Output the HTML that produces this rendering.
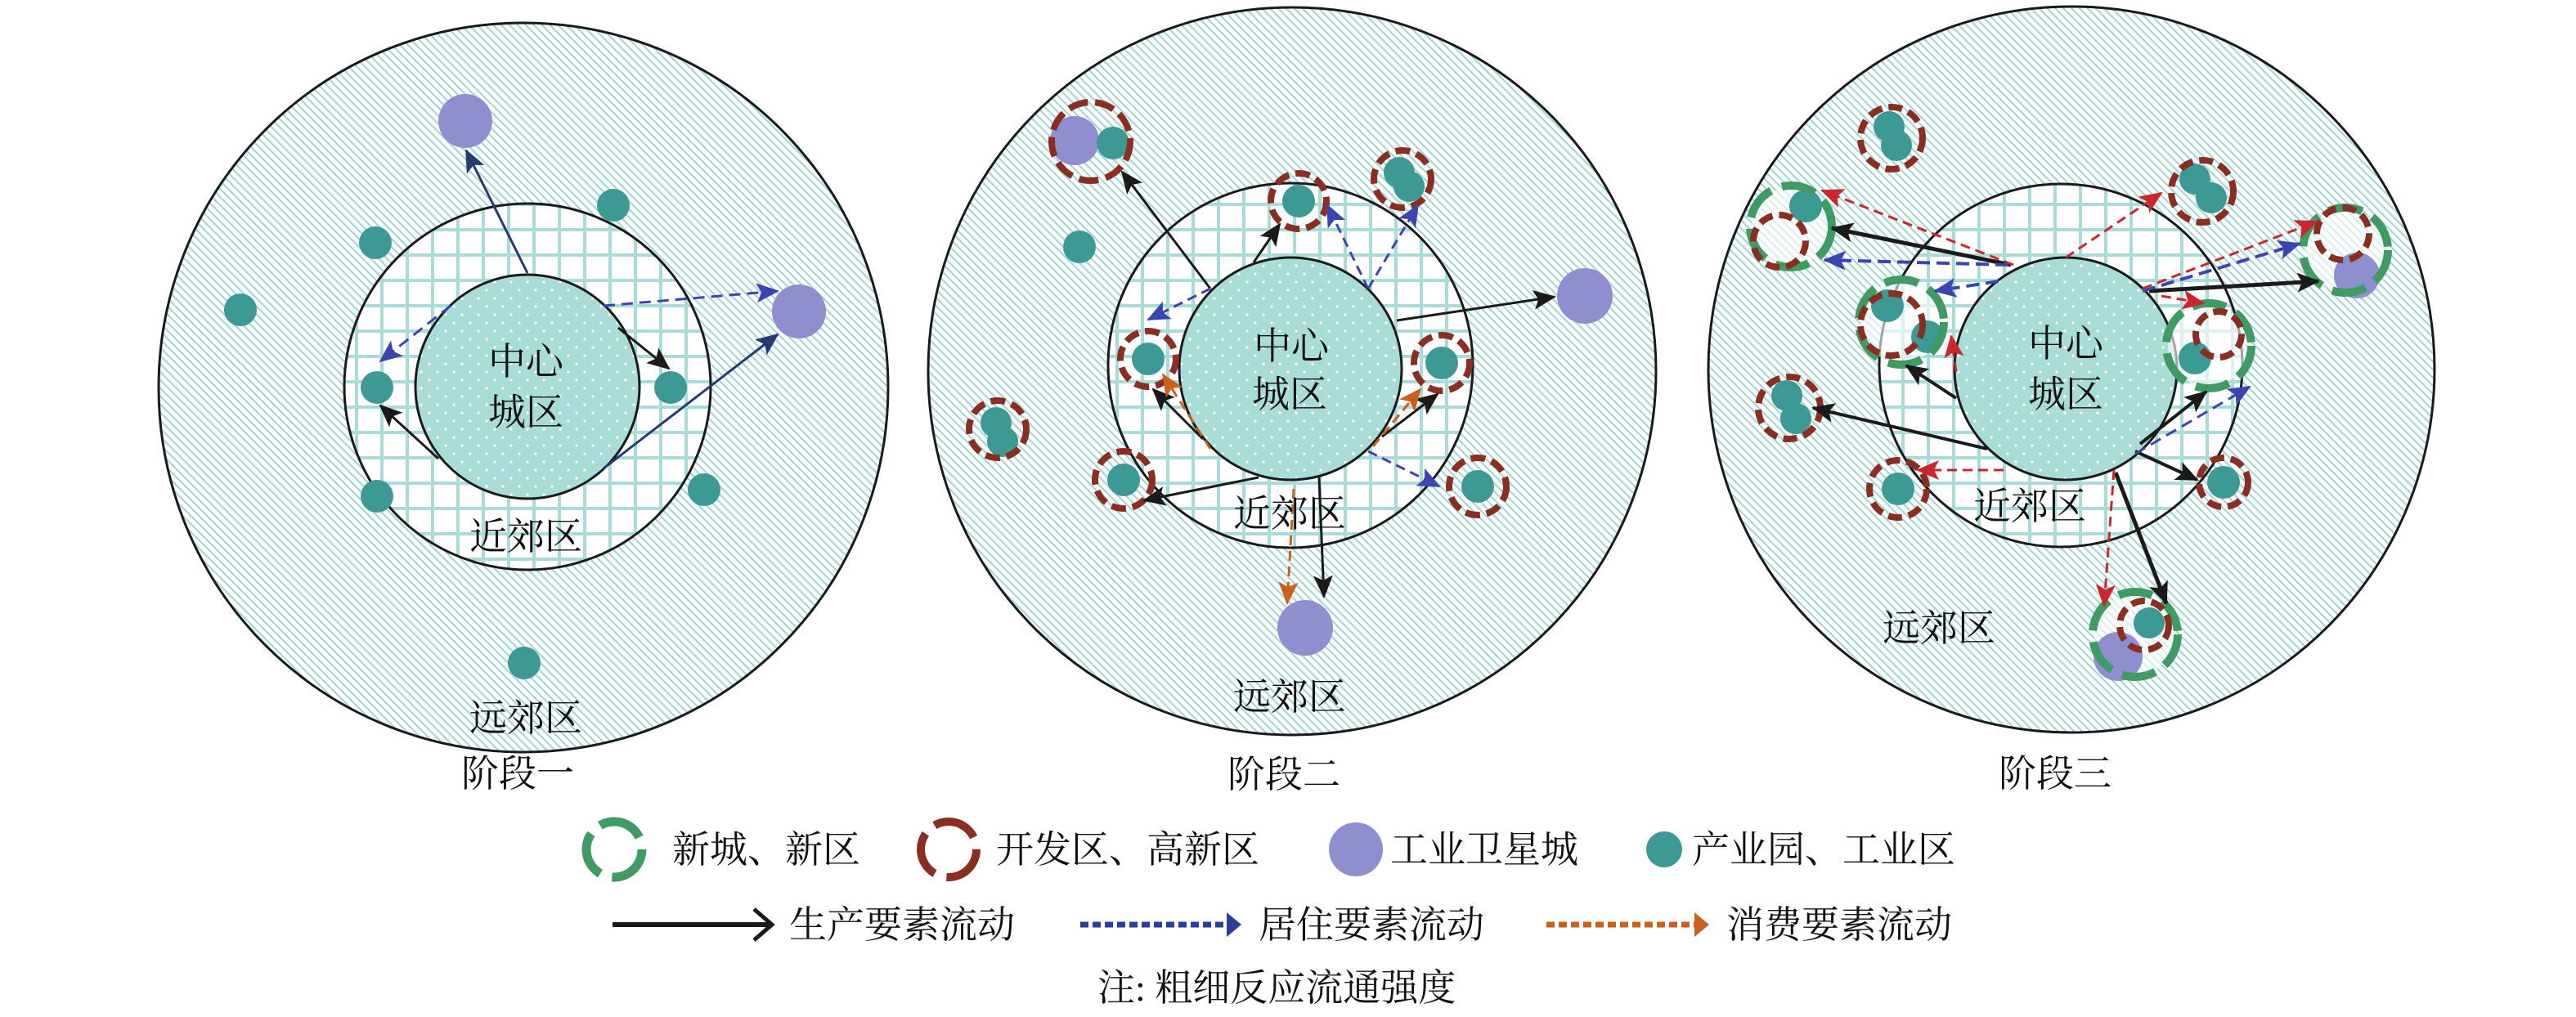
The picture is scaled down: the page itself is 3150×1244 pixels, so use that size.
<!DOCTYPE html>
<html><head><meta charset="utf-8"><style>
html,body{margin:0;padding:0;background:#fff;}
svg{display:block;}
text{font-family:"Liberation Serif","Noto Serif CJK SC","Noto Sans CJK SC",serif;fill:#111;}
</style></head><body>
<svg width="3150" height="1244" viewBox="0 0 3150 1244" xmlns="http://www.w3.org/2000/svg">
<defs>
<pattern id="hatch" width="7" height="7" patternUnits="userSpaceOnUse" patternTransform="rotate(45)">
<rect width="7" height="7" fill="#ffffff"/>
<rect width="7" height="2.2" fill="#a6d6d2"/>
</pattern>
<pattern id="grid" width="31" height="31" patternUnits="userSpaceOnUse">
<rect width="31" height="31" fill="#ffffff"/>
<rect width="31" height="4" fill="#a9dcd8"/>
<rect width="4" height="31" fill="#a9dcd8"/>
</pattern>
<pattern id="dots" width="20" height="20" patternUnits="userSpaceOnUse">
<rect width="20" height="20" fill="#a9dcd7"/>
<circle cx="5" cy="5" r="1.6" fill="#ffffff"/>
<circle cx="15" cy="15" r="1.6" fill="#ffffff"/>
</pattern>
<marker id="mk" markerUnits="userSpaceOnUse" markerWidth="28" markerHeight="24" refX="26" refY="12" orient="auto"><path d="M0,0 L28,12 L0,24 L6,12 Z" fill="#1a1a1a"/></marker>
<marker id="mn" markerUnits="userSpaceOnUse" markerWidth="28" markerHeight="24" refX="26" refY="12" orient="auto"><path d="M0,0 L28,12 L0,24 L6,12 Z" fill="#283a72"/></marker>
<marker id="mb" markerUnits="userSpaceOnUse" markerWidth="28" markerHeight="24" refX="26" refY="12" orient="auto"><path d="M0,0 L28,12 L0,24 L6,12 Z" fill="#3a45b0"/></marker>
<marker id="mo" markerUnits="userSpaceOnUse" markerWidth="28" markerHeight="24" refX="26" refY="12" orient="auto"><path d="M0,0 L28,12 L0,24 L6,12 Z" fill="#c8601e"/></marker>
<marker id="mr" markerUnits="userSpaceOnUse" markerWidth="28" markerHeight="24" refX="26" refY="12" orient="auto"><path d="M0,0 L28,12 L0,24 L6,12 Z" fill="#c8282d"/></marker>
</defs>

<!-- ===== Stage 1 ===== -->
<circle cx="640" cy="474" r="446" fill="url(#hatch)" stroke="#1a1a1a" stroke-width="3"/>
<circle cx="645" cy="473" r="224" fill="url(#grid)" stroke="#1a1a1a" stroke-width="3"/>
<circle cx="645" cy="473" r="137" fill="url(#dots)" stroke="#1a1a1a" stroke-width="3"/>
<g fill="#3d9994">
<circle cx="459" cy="297" r="20"/><circle cx="750" cy="251" r="20"/><circle cx="294" cy="379" r="20"/>
<circle cx="461" cy="474" r="20"/><circle cx="820" cy="474" r="20"/><circle cx="461" cy="607" r="20"/>
<circle cx="861" cy="599" r="20"/><circle cx="641" cy="811" r="20"/>
</g>
<g fill="#8f8fd0"><circle cx="569" cy="148" r="33"/><circle cx="977" cy="381" r="33"/></g>
<g fill="none" stroke-width="3">
<line x1="645" y1="334" x2="570" y2="184" stroke="#283a72" marker-end="url(#mn)"/>
<line x1="738" y1="573" x2="951" y2="409" stroke="#283a72" marker-end="url(#mn)"/>
<line x1="738" y1="374" x2="951" y2="356" stroke="#3a45b0" stroke-dasharray="14 8" marker-end="url(#mb)"/>
<line x1="551" y1="374" x2="465" y2="442" stroke="#3a45b0" stroke-dasharray="14 8" marker-end="url(#mb)"/>
<line x1="756" y1="401" x2="818" y2="451" stroke="#1a1a1a" marker-end="url(#mk)"/>
<line x1="536" y1="561" x2="465" y2="496" stroke="#1a1a1a" marker-end="url(#mk)"/>
</g>
<g font-size="46" text-anchor="middle">
<text x="643" y="458">中心</text><text x="643" y="520">城区</text>
<text x="643" y="672">近郊区</text><text x="643" y="894">远郊区</text>
<text x="633" y="962">阶段一</text>
</g>

<!-- ===== Stage 2 ===== -->
<circle cx="1580" cy="454" r="445" fill="url(#hatch)" stroke="#1a1a1a" stroke-width="3"/>
<circle cx="1578" cy="447" r="223" fill="url(#grid)" stroke="#1a1a1a" stroke-width="3"/>
<circle cx="1578" cy="451" r="136" fill="url(#dots)" stroke="#1a1a1a" stroke-width="3"/>
<g fill="#8f8fd0"><circle cx="1314" cy="172" r="30"/><circle cx="1938" cy="362" r="34"/><circle cx="1596" cy="768" r="34"/></g>
<g fill="#3d9994">
<circle cx="1361" cy="175" r="20"/><circle cx="1320" cy="302" r="20"/><circle cx="1588" cy="246" r="20"/>
<circle cx="1711" cy="211" r="19"/><circle cx="1723" cy="228" r="19"/>
<circle cx="1404" cy="439" r="20"/><circle cx="1763" cy="444" r="20"/>
<circle cx="1218" cy="517" r="19"/><circle cx="1226" cy="540" r="19"/>
<circle cx="1374" cy="587" r="20"/><circle cx="1807" cy="595" r="20"/>
</g>
<g fill="none" stroke="#8b2e22" stroke-width="8" stroke-dasharray="18 8">
<circle cx="1334" cy="173" r="48" stroke-dasharray="24 9"/>
<circle cx="1588" cy="246" r="34"/><circle cx="1715" cy="219" r="35"/>
<circle cx="1404" cy="439" r="34"/><circle cx="1763" cy="444" r="34"/>
<circle cx="1220" cy="525" r="35"/><circle cx="1374" cy="587" r="35"/><circle cx="1807" cy="595" r="35"/>
</g>
<g fill="none" stroke-width="3">
<line x1="1480" y1="353" x2="1372" y2="210" stroke="#1a1a1a" marker-end="url(#mk)"/>
<line x1="1533" y1="321" x2="1565" y2="274" stroke="#1a1a1a" marker-end="url(#mk)"/>
<line x1="1708" y1="392" x2="1901" y2="363" stroke="#1a1a1a" marker-end="url(#mk)"/>
<line x1="1471" y1="537" x2="1410" y2="476" stroke="#1a1a1a" marker-end="url(#mk)"/>
<line x1="1690" y1="534" x2="1758" y2="482" stroke="#1a1a1a" marker-end="url(#mk)"/>
<line x1="1539" y1="584" x2="1399" y2="612" stroke="#1a1a1a" marker-end="url(#mk)"/>
<line x1="1613" y1="584" x2="1619" y2="730" stroke="#1a1a1a" marker-end="url(#mk)"/>
<line x1="1673" y1="353" x2="1623" y2="251" stroke="#3a45b0" stroke-dasharray="12 7" marker-end="url(#mb)"/>
<line x1="1673" y1="353" x2="1734" y2="251" stroke="#3a45b0" stroke-dasharray="12 7" marker-end="url(#mb)"/>
<line x1="1480" y1="353" x2="1404" y2="391" stroke="#3a45b0" stroke-dasharray="12 7" marker-end="url(#mb)"/>
<line x1="1673" y1="552" x2="1760" y2="595" stroke="#3a45b0" stroke-dasharray="12 7" marker-end="url(#mb)"/>
<line x1="1480" y1="549" x2="1422" y2="458" stroke="#c8601e" stroke-dasharray="12 7" marker-end="url(#mo)"/>
<line x1="1679" y1="546" x2="1737" y2="476" stroke="#c8601e" stroke-dasharray="12 7" marker-end="url(#mo)"/>
<line x1="1582" y1="598" x2="1574" y2="738" stroke="#c8601e" stroke-dasharray="12 7" marker-end="url(#mo)"/>
</g>
<g font-size="46" text-anchor="middle">
<text x="1579" y="439">中心</text><text x="1577" y="498">城区</text>
<text x="1577" y="644">近郊区</text><text x="1577" y="868">远郊区</text>
<text x="1570" y="963">阶段二</text>
</g>

<!-- ===== Stage 3 ===== -->
<circle cx="2533" cy="452" r="444" fill="url(#hatch)" stroke="#1a1a1a" stroke-width="3"/>
<circle cx="2520" cy="447" r="222" fill="url(#grid)" stroke="#1a1a1a" stroke-width="3"/>
<circle cx="2526" cy="451" r="136" fill="url(#dots)" stroke="#1a1a1a" stroke-width="3"/>
<g fill="#fff" fill-opacity="0.6">
<circle cx="2190" cy="277" r="48"/><circle cx="2868" cy="306" r="50"/><circle cx="2325" cy="394" r="50"/>
<circle cx="2701" cy="423" r="50"/><circle cx="2611" cy="776" r="50"/>
</g>
<g fill="#3d9994">
<circle cx="2310" cy="155" r="19"/><circle cx="2319" cy="178" r="19"/>
<circle cx="2208" cy="252" r="20"/>
<circle cx="2684" cy="219" r="19"/><circle cx="2704" cy="242" r="19"/>
<circle cx="2308" cy="374" r="20"/><circle cx="2357" cy="412" r="20"/>
<circle cx="2684" cy="438" r="20"/>
<circle cx="2185" cy="484" r="19"/><circle cx="2196" cy="512" r="19"/>
<circle cx="2321" cy="598" r="20"/><circle cx="2719" cy="590" r="20"/>
<circle cx="2628" cy="762" r="19"/>
</g>
<g fill="#8f8fd0"><circle cx="2882" cy="337" r="28"/><circle cx="2590" cy="803" r="30"/></g>
<g fill="none" stroke="#3f9a63" stroke-width="10" stroke-dasharray="42 14">
<circle cx="2190" cy="277" r="50"/><circle cx="2868" cy="306" r="52"/><circle cx="2325" cy="394" r="52"/>
<circle cx="2701" cy="423" r="52"/><circle cx="2611" cy="776" r="52"/>
</g>
<g fill="none" stroke="#8b2e22" stroke-width="8" stroke-dasharray="17 8">
<circle cx="2313" cy="169" r="38"/><circle cx="2176" cy="295" r="32"/><circle cx="2693" cy="234" r="38"/>
<circle cx="2865" cy="286" r="32"/><circle cx="2313" cy="397" r="38"/><circle cx="2713" cy="409" r="28"/>
<circle cx="2188" cy="499" r="38"/><circle cx="2321" cy="598" r="35"/><circle cx="2719" cy="590" r="30"/>
<circle cx="2622" cy="765" r="30"/>
</g>
<g fill="none">
<line x1="2459" y1="324" x2="2240" y2="279" stroke="#1a1a1a" stroke-width="5" marker-end="url(#mk)"/>
<line x1="2628" y1="356" x2="2835" y2="344" stroke="#1a1a1a" stroke-width="5" marker-end="url(#mk)"/>
<line x1="2392" y1="487" x2="2331" y2="447" stroke="#1a1a1a" stroke-width="4" marker-end="url(#mk)"/>
<line x1="2430" y1="549" x2="2217" y2="499" stroke="#1a1a1a" stroke-width="4" marker-end="url(#mk)"/>
<line x1="2617" y1="543" x2="2698" y2="479" stroke="#1a1a1a" stroke-width="4" marker-end="url(#mk)"/>
<line x1="2611" y1="552" x2="2687" y2="587" stroke="#1a1a1a" stroke-width="4" marker-end="url(#mk)"/>
<line x1="2587" y1="578" x2="2649" y2="738" stroke="#1a1a1a" stroke-width="5" marker-end="url(#mk)"/>
<line x1="2456" y1="324" x2="2231" y2="318" stroke="#3a45b0" stroke-width="4" stroke-dasharray="16 8" marker-end="url(#mb)"/>
<line x1="2444" y1="344" x2="2366" y2="356" stroke="#3a45b0" stroke-width="4" stroke-dasharray="16 8" marker-end="url(#mb)"/>
<line x1="2620" y1="356" x2="2812" y2="298" stroke="#3a45b0" stroke-width="4" stroke-dasharray="16 8" marker-end="url(#mb)"/>
<line x1="2611" y1="555" x2="2751" y2="473" stroke="#3a45b0" stroke-width="3" stroke-dasharray="14 8" marker-end="url(#mb)"/>
<line x1="2462" y1="324" x2="2228" y2="233" stroke="#c8282d" stroke-width="3" stroke-dasharray="12 7" marker-end="url(#mr)"/>
<line x1="2526" y1="315" x2="2643" y2="236" stroke="#c8282d" stroke-width="3" stroke-dasharray="12 7" marker-end="url(#mr)"/>
<line x1="2620" y1="353" x2="2833" y2="271" stroke="#c8282d" stroke-width="3" stroke-dasharray="12 7" marker-end="url(#mr)"/>
<line x1="2643" y1="362" x2="2695" y2="371" stroke="#c8282d" stroke-width="3" stroke-dasharray="12 7" marker-end="url(#mr)"/>
<line x1="2392" y1="455" x2="2386" y2="411" stroke="#c8282d" stroke-width="3" stroke-dasharray="12 7" marker-end="url(#mr)"/>
<line x1="2450" y1="575" x2="2345" y2="575" stroke="#c8282d" stroke-width="3" stroke-dasharray="12 7" marker-end="url(#mr)"/>
<line x1="2585" y1="575" x2="2573" y2="741" stroke="#c8282d" stroke-width="3" stroke-dasharray="12 7" marker-end="url(#mr)"/>
</g>
<g font-size="46" text-anchor="middle">
<text x="2526" y="436">中心</text><text x="2526" y="498">城区</text>
<text x="2482" y="635">近郊区</text><text x="2371" y="784">远郊区</text>
<text x="2513" y="962">阶段三</text>
</g>

<!-- ===== Legend ===== -->
<circle cx="751" cy="1039" r="34" fill="none" stroke="#3f9a63" stroke-width="11" stroke-dasharray="56 15"/>
<circle cx="1160" cy="1039" r="34" fill="none" stroke="#8b2e22" stroke-width="10" stroke-dasharray="56 15"/>
<circle cx="1658" cy="1039" r="33" fill="#8f8fd0"/>
<circle cx="2035" cy="1039" r="22" fill="#3d9994"/>
<g font-size="46">
<text x="822" y="1055">新城、新区</text>
<text x="1218" y="1055">开发区、高新区</text>
<text x="1700" y="1055">工业卫星城</text>
<text x="2069" y="1055">产业园、工业区</text>
<text x="965" y="1147">生产要素流动</text>
<text x="1539" y="1147">居住要素流动</text>
<text x="2111" y="1147">消费要素流动</text>
<text x="1342" y="1224">注: 粗细反应流通强度</text>
</g>
<line x1="749" y1="1131" x2="940" y2="1131" stroke="#1a1a1a" stroke-width="6"/>
<path d="M922,1112 L944,1131 L922,1150" fill="none" stroke="#1a1a1a" stroke-width="5"/>
<line x1="1321" y1="1131" x2="1500" y2="1131" stroke="#2a3e9a" stroke-width="7" stroke-dasharray="10 5"/>
<path d="M1500,1116 L1518,1131 L1500,1146 Z" fill="#2a3e9a"/>
<line x1="1891" y1="1131" x2="2072" y2="1131" stroke="#c8601e" stroke-width="7" stroke-dasharray="10 5"/>
<path d="M2072,1116 L2090,1131 L2072,1146 Z" fill="#c8601e"/>
</svg>
</body></html>
